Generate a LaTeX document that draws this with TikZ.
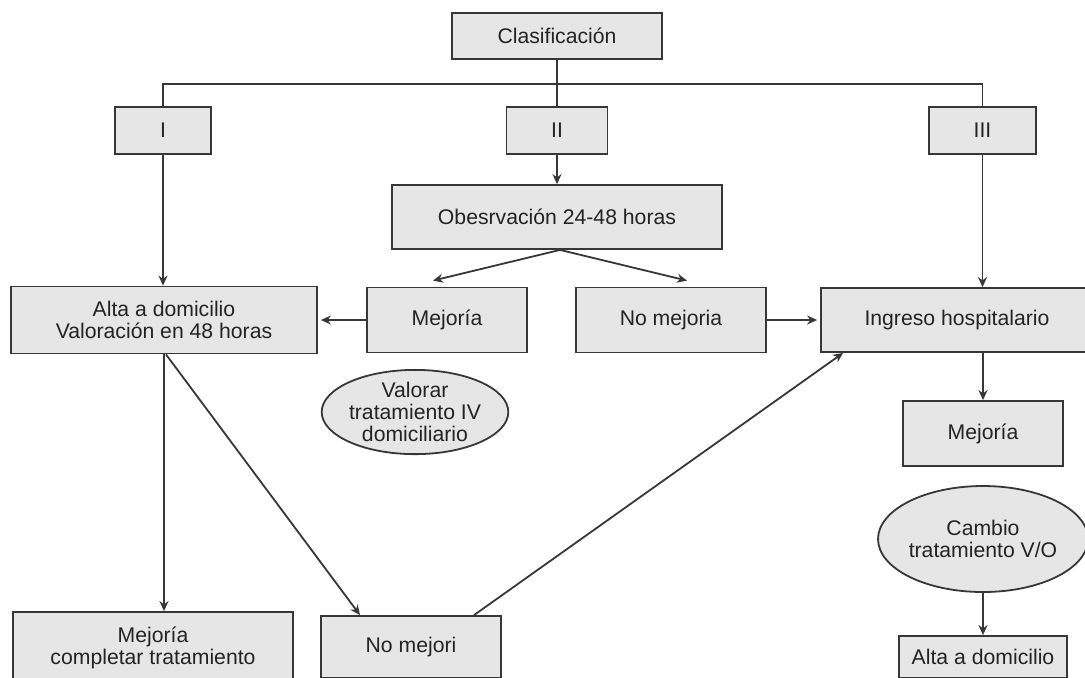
\documentclass[tikz,border=0pt]{standalone}
\usepackage{fontspec}
\setmainfont{Liberation Sans}
\usepackage{tikz}
\usetikzlibrary{shapes.geometric, arrows, arrows.meta}
\usetikzlibrary{positioning}
\definecolor{boxgray}{RGB}{229,230,229}
\definecolor{linegray}{RGB}{55,55,55}
\definecolor{textgray}{RGB}{35,35,35}
\tikzstyle{box} = [rectangle, inner sep=0pt, text centered, align=center, draw=linegray, line width=0.9pt, fill=boxgray, text=textgray, font=\fontsize{10.6pt}{11pt}\selectfont]
\tikzstyle{oval} = [ellipse, inner sep=0pt, text centered, align=center, draw=linegray, line width=0.9pt, fill=boxgray, text=textgray, font=\fontsize{10.6pt}{11pt}\selectfont]
\tikzstyle{arrow} = [line width=0.9pt, draw=linegray, -{Stealth[length=5pt,width=4.5pt]}]
\tikzstyle{link} = [line width=0.9pt, draw=linegray]

\begin{document}
\begin{tikzpicture}[node distance=28pt]
        \useasboundingbox (0,0) rectangle (542.5pt,-338.5pt);
        \node (clas) [box, minimum width=105pt, minimum height=23pt] at (278.5pt,-18pt) {Clasificación};
        \node (II) [box, below of=clas, yshift=-19.25pt, minimum width=50.5pt, minimum height=23.5pt]{II};
        \node (I) [box, left of=II, xshift=-169pt, minimum width=48pt, minimum height=23.5pt]{I};
        \node (III) [box, right of=II, xshift=184.75pt, minimum width=53.5pt, minimum height=23.5pt]{III};
        \node (obs) [box, below of=II, yshift=-15.25pt, minimum width=165pt, minimum height=32pt]{Obesrvación 24-48 horas};
        \node (mej1) [box, below of=obs, xshift=-55pt, yshift=-23.5pt, minimum width=80pt, minimum height=32.5pt]{Mejoría};
        \node (nomej) [box, below of=obs, xshift=57pt, yshift=-23.5pt, minimum width=95pt, minimum height=32.5pt]{No mejoria};
        \node (alta) [box, left of=mej1, xshift=-113.5pt, minimum width=153pt, minimum height=33.5pt]{Alta a domicilio\\Valoración en 48 horas};
        \node (ingreso) [box, right of=nomej, xshift=115pt, minimum width=136pt, minimum height=32pt]{Ingreso hospitalario};
        \node (mej2) [box, below of=ingreso, xshift=13pt, yshift=-28.75pt, minimum width=80pt, minimum height=32.5pt]{Mejoría};
        \node (cambio) [oval, below of=mej2, yshift=-24.75pt, minimum width=100pt, minimum height=53pt]{Cambio\\tratamiento V/O};
        \node (alta2) [box, below of=cambio, yshift=-31pt, minimum width=84pt, minimum height=21pt]{Alta a domicilio};
        \node (valorar) [oval, below of=mej1, xshift=-16pt, yshift=-18pt, minimum width=70pt, minimum height=41pt]{Valorar\\tratamiento IV\\domiciliario};
        \node (mejcomp) [box, below of=alta, xshift=-5.5pt, yshift=-136pt, minimum width=140pt, minimum height=36pt]{Mejoría\\completar tratamiento};
        \node (nomej2) [box, below of=alta, xshift=123.5pt, yshift=-135.5pt, minimum width=90pt, minimum height=31pt]{No mejori};
        \coordinate (bus) at ([yshift=-12pt]clas.south);

        \draw [link] (clas) -- (II);
        \draw [link] (I.north) |- (bus) -| (III.north);
        \draw [arrow] (I) -- (I |- alta.north);
        \draw [arrow] (II) -- (obs);
        \draw [arrow] (III) -- (III |- ingreso.north);
        \draw [arrow] ([xshift=1.5pt]obs.south) -- ([xshift=-7pt,yshift=3pt]mej1.north);
        \draw [arrow] ([xshift=1.5pt]obs.south) -- ([xshift=8pt,yshift=3pt]nomej.north);
        \draw [arrow, shorten >=1.5pt] (mej1) -- (alta);
        \draw [arrow, shorten >=1.5pt] (nomej) -- (ingreso);
        \draw [arrow] (ingreso.south -| mej2) -- (mej2);
        \draw [arrow] (cambio) -- (alta2);
        \draw [arrow] (alta) -- (alta |- mejcomp.north);
        \draw [arrow] ([xshift=1pt]alta.south) -- ([xshift=-25.5pt]nomej2.north);
        \draw [arrow] ([xshift=31.5pt]nomej2.north) -- ([xshift=11.5pt]ingreso.south west);

\end{tikzpicture}
\end{document}
